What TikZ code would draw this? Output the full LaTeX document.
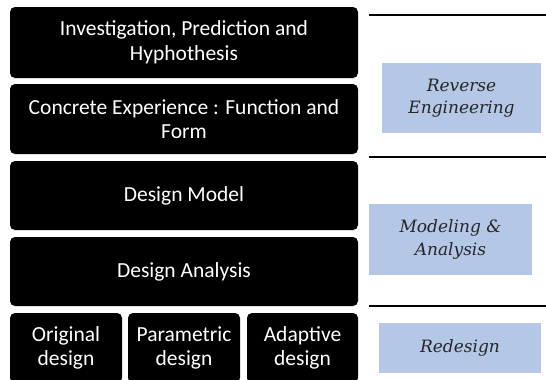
\documentclass[tikz,border=0pt]{standalone}
\usepackage{fontspec}
\newfontfamily\boxfont{Carlito}
\newfontfamily\labelfont{DejaVu Serif}
\definecolor{labelblue}{HTML}{B4C7E7}
\definecolor{labeltext}{HTML}{262626}
\begin{document}
\begin{tikzpicture}[x=1pt,y=-1pt,
  stage/.style={fill=black, rounded corners=5pt, text=white, align=center,
    inner sep=0pt, font=\boxfont\fontsize{21.5}{24.5}\selectfont},
  phase/.style={fill=labelblue, text=labeltext, align=center, inner sep=0pt,
    font=\labelfont\itshape\fontsize{17}{22.5}\selectfont},
  divider/.style={line width=2pt}]
\clip (0,0) rectangle (546,380);
\fill[white] (0,0) rectangle (546,380);

% stacked process stages
\node[stage, minimum width=348pt, minimum height=71pt] (inv) at (184,42.5)
  {Investigation, Prediction and\\Hyphothesis};
\node[stage, minimum width=348pt, minimum height=70pt] (exp) at (184,119)
  {Concrete Experience : Function and\\Form};
\node[stage, minimum width=348pt, minimum height=69pt] (model) at (184,195.5)
  {Design Model};
\node[stage, minimum width=348pt, minimum height=69pt] (analysis) at (184,271.5)
  {Design Analysis};
\node[stage, minimum width=112pt, minimum height=70pt] (orig) at (66,348)
  {Original\\design};
\node[stage, minimum width=112pt, minimum height=70pt] (param) at (184,348)
  {Parametric\\design};
\node[stage, minimum width=111pt, minimum height=70pt] (adapt) at (302.5,348)
  {Adaptive\\design};

% phase separators
\coordinate (d1a) at (369,15);  \coordinate (d1b) at (546,15);
\coordinate (d2a) at (369,157); \coordinate (d2b) at (546,157);
\coordinate (d3a) at (369,306); \coordinate (d3b) at (546,306);
\draw[divider] (d1a) -- (d1b);
\draw[divider] (d2a) -- (d2b);
\draw[divider] (d3a) -- (d3b);

% phase labels
\node[phase, minimum width=159pt, minimum height=70pt] (rev) at (461.5,98)
  {Reverse\\Engineering};
\node[phase, minimum width=163pt, minimum height=71pt] (mod) at (450.5,239.5)
  {Modeling \&\\Analysis};
\node[phase, minimum width=162pt, minimum height=50pt] (red) at (460,348)
  {Redesign};
\end{tikzpicture}
\end{document}
